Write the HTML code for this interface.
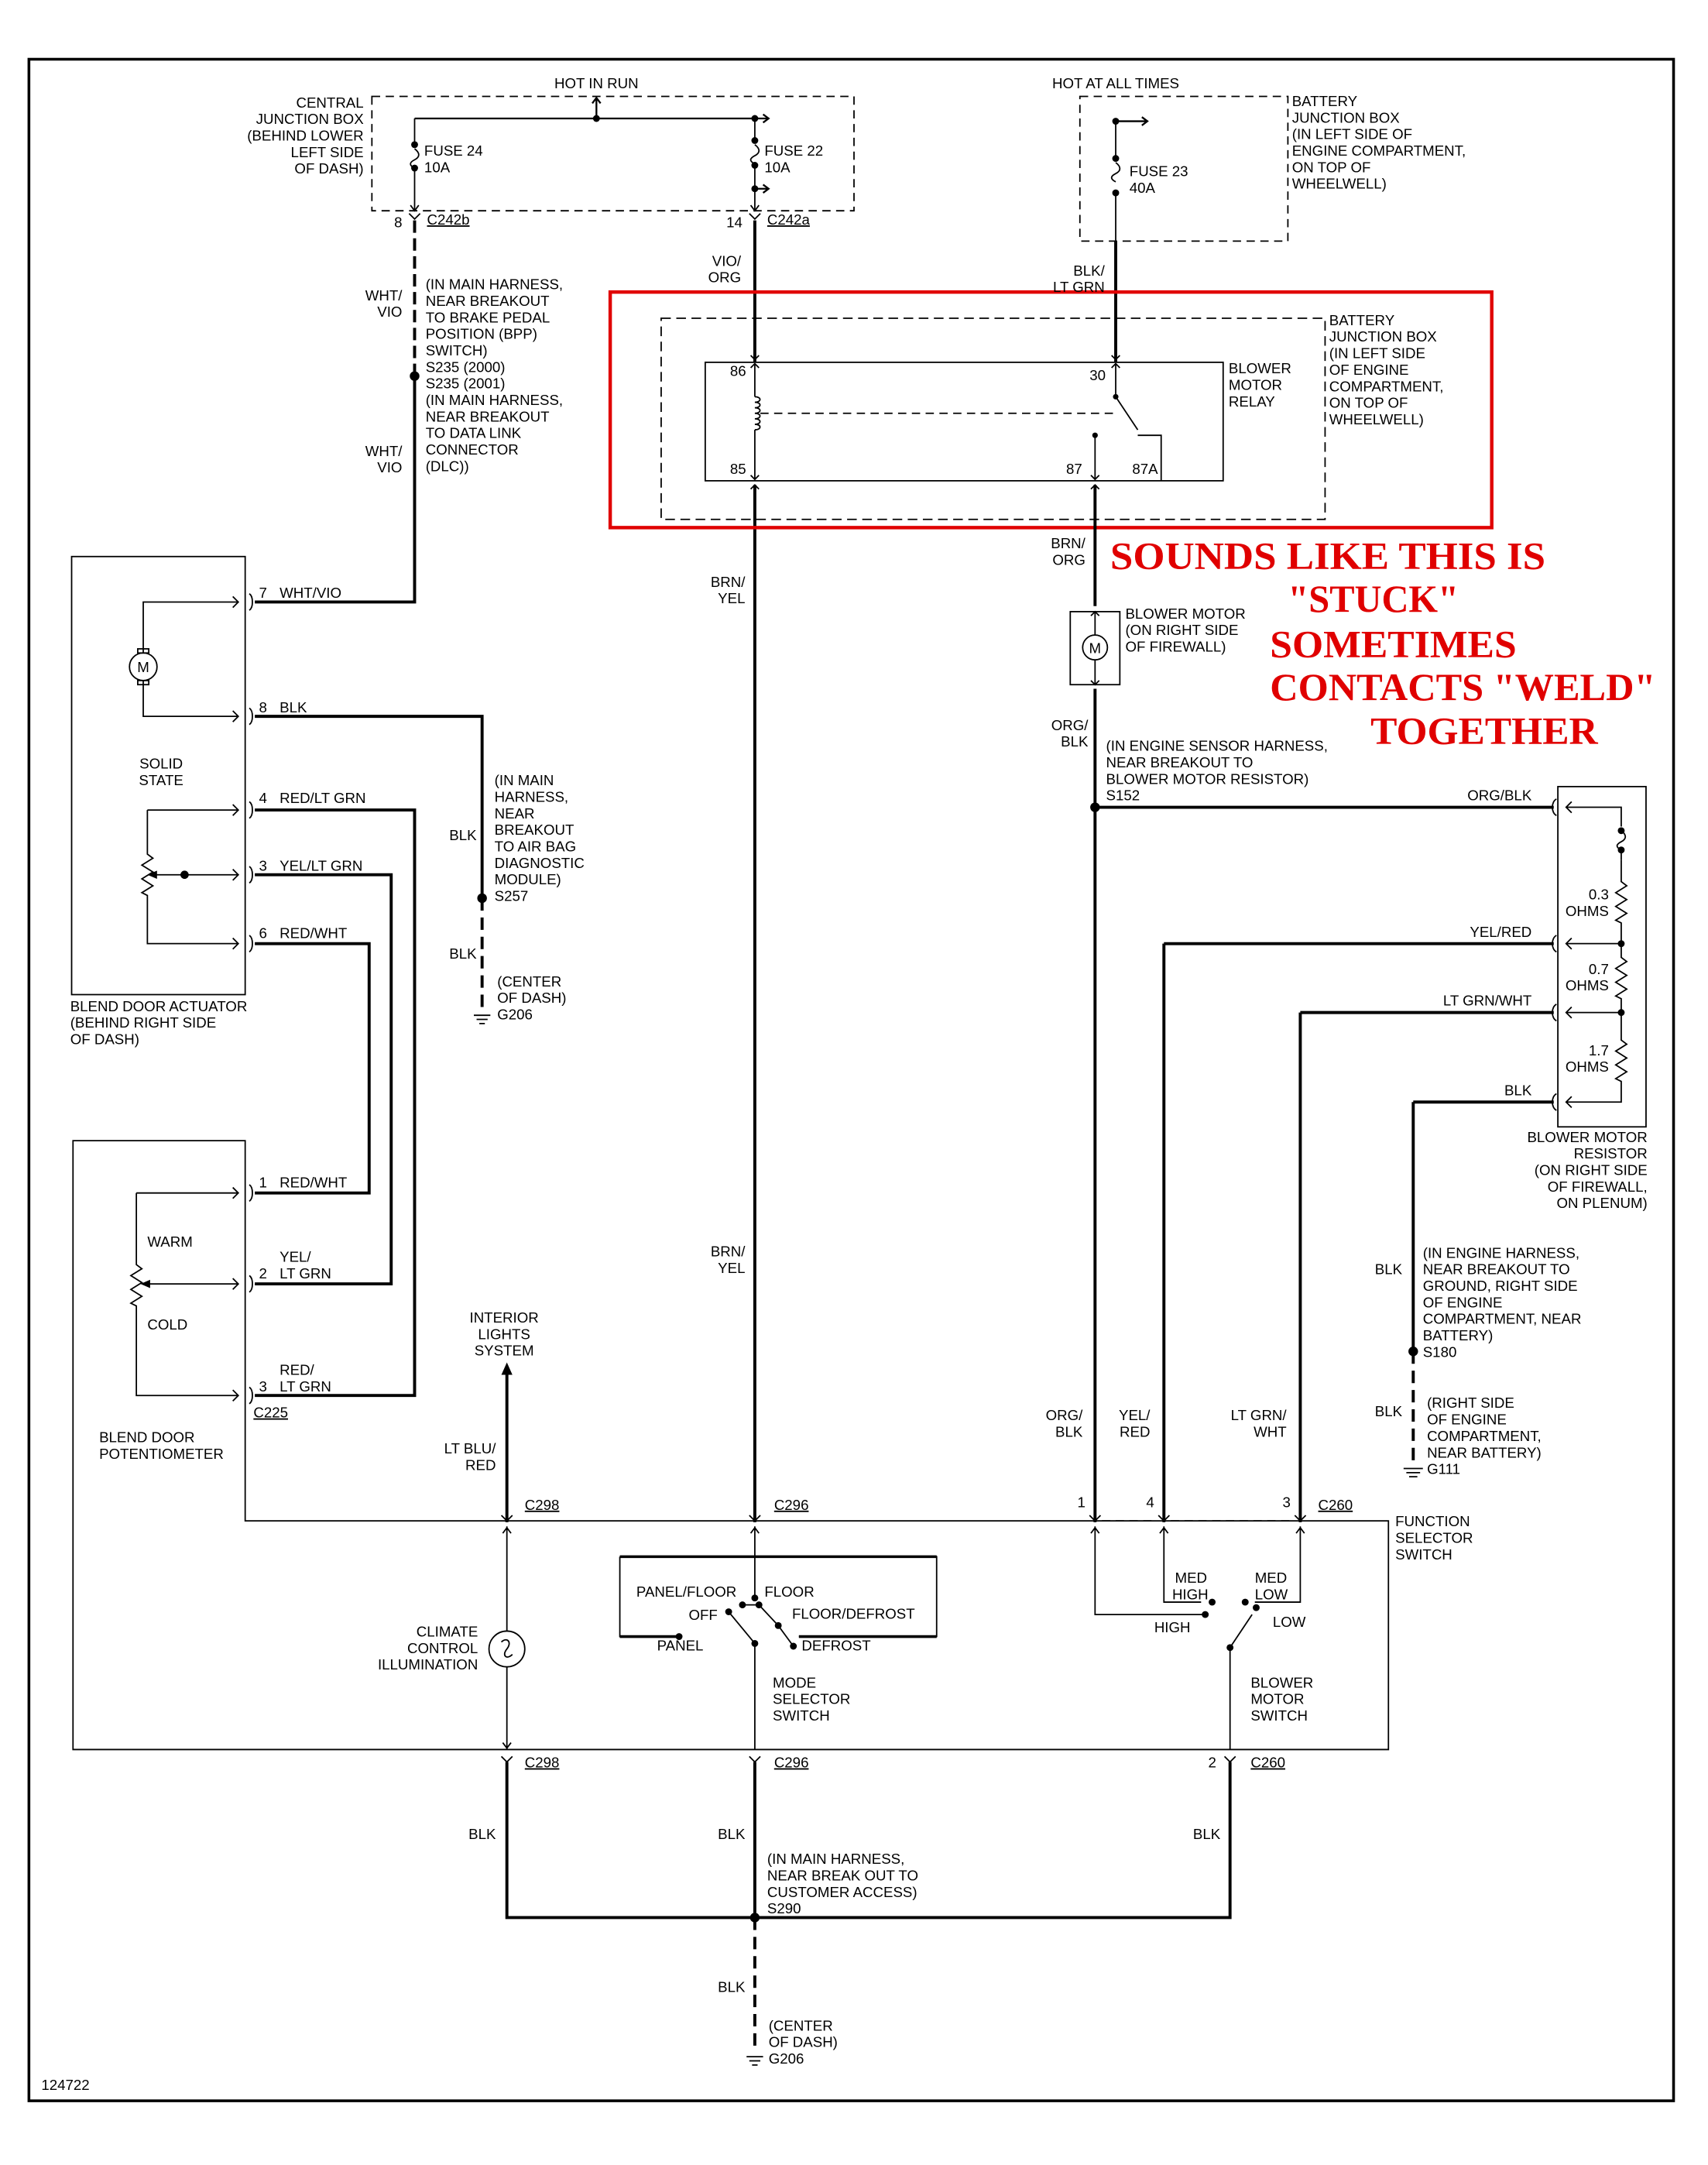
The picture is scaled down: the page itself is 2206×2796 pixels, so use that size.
<!DOCTYPE html>
<html><head><meta charset="utf-8">
<style>
html,body{margin:0;padding:0;background:#fff;}
svg{display:block;}
text{font-family:"Liberation Sans",sans-serif;font-size:10.5px;fill:#000;}
.r{text-anchor:end;}
.m{text-anchor:middle;}
.red{font-family:"Liberation Serif",serif;font-weight:bold;font-size:28px;fill:#e00000;}
</style></head><body>
<svg width="2206" height="2796" viewBox="0 0 1240 1571.6" preserveAspectRatio="none" xmlns="http://www.w3.org/2000/svg">
<rect x="0" y="0" width="1240" height="1572" fill="#fff"/>
<g fill="none" stroke="#000">
<rect x="21" y="43" width="1194" height="1482" stroke-width="2"/>
<rect x="270" y="70" width="350" height="83" stroke-dasharray="6,4" stroke-width="1"/>
<path d="M301 86H548M548 86H558M554 83l4 3-4 3M433 86V71M430 75l3-4 3 4M548 137H558M554 134l4 3-4 3" stroke-width="1.3"/>
<path d="M301 86V105M301 122V153M548 86V102M548 120V153" stroke-width="1"/>
<path d="M301 108c4 3 4 6 0 8c-4 2-4 4 0 6M548 105c4 3 4 6 0 8c-4 2-4 4 0 6" stroke-width="1"/>
<path d="M298 149l3 4 3-4M545 149l3 4 3-4M297 155l4 4 4-4M544 155l4 4 4-4"/>
<rect x="784" y="70" width="151" height="105" stroke-dasharray="6,4" stroke-width="1"/>
<path d="M810 88H833M829 85l4 3-4 3" stroke-width="1.3"/>
<path d="M810 88V115M810 140V175" stroke-width="1"/>
<path d="M810 118c4 3 4 6 0 8c-4 2-4 4 0 6"/>
<path d="M810 175V263" stroke-width="2.2"/>
<path d="M301 160V273" stroke-width="2.2" stroke-dasharray="9,4"/>
<path d="M301 273V437H185" stroke-width="2.2"/>
<path d="M548 160V263M548 352V1105" stroke-width="2.2"/>
<rect x="443" y="212" width="640" height="171" stroke="#e00000" stroke-width="2.5"/>
<rect x="480" y="231" width="482" height="146" stroke-dasharray="7,4" stroke-width="1"/>
<rect x="512" y="263" width="376" height="86" stroke-width="1"/>
<path d="M548 264V288M548 312V348M545 267l3-3 3 3M545 345l3 3 3-3M545 258l3 3 3-3M545 355l3-3 3 3M807 258l3 3 3-3"/>
<path d="M548 288c5 0 5 4 0 4c5 0 5 4 0 4c5 0 5 4 0 4c5 0 5 4 0 4c5 0 5 4 0 4c5 0 5 4 0 4" />
<path d="M552 300H812" stroke-dasharray="6,4"/>
<path d="M810 264V288L826 312M807 267l3-3 3 3M826 316H843V349M795 316V348M792 345l3 3 3-3"/>
<path d="M795 352V440" stroke-width="2.2"/>
<path d="M792 355l3-3 3 3"/>
<rect x="777" y="444" width="36" height="53"/>
<circle cx="795" cy="470" r="9"/>
<path d="M795 444V461M795 479V497M792 447l3-3 3 3M792 494l3 3 3-3"/>
<path d="M795 500V1105" stroke-width="2.2"/>
<path d="M795 586H1128M845 685H1128M845 685V1105M944 735H1128M944 735V1105M1026 800H1128M1026 800V981" stroke-width="2.2"/>
<path d="M1026 981V1062" stroke-width="2.2" stroke-dasharray="9,5"/>
<path d="M1019 1066h14M1021 1069h10M1023 1072h6"/>
<rect x="1131" y="571" width="64" height="247"/>
<path d="M1130 580c-4 2-4 10 0 12M1130 679c-4 2-4 10 0 12M1130 729c-4 2-4 10 0 12M1130 794c-4 2-4 10 0 12"/>
<path d="M1137 586H1177V600M1177 624V640l4 3-8 5 8 5-8 5 8 5-8 5 4 2V695l4 3-8 5 8 5-8 5 8 5-8 5 4 2V755l4 3-8 5 8 5-8 5 8 5-8 5 4 2V800H1137M1137 685H1177M1137 735H1177M1141 582l-4 4 4 4M1141 681l-4 4 4 4M1141 731l-4 4 4 4M1141 796l-4 4 4 4"/>
<path d="M1177 603c4 3 4 6 0 8c-4 2-4 4 0 6V624"/>
<rect x="52" y="404" width="126" height="318"/>
<path d="M104 474V437H173M169 433l4 4-4 4M104 494V520H173M169 516l4 4-4 4"/>
<circle cx="104" cy="484" r="10"/>
<rect x="100" y="471" width="8" height="3"/><rect x="100" y="494" width="8" height="3"/>
<path d="M107 588H173M169 584l4 4-4 4M107 588V620l4 3-8 5 8 5-8 5 8 5-8 5 4 2V685H173M169 681l4 4-4 4M112 635H173M169 631l4 4-4 4"/>
<path d="M181 431c3 2 3 10 0 12M181 514c3 2 3 10 0 12M181 582c3 2 3 10 0 12M181 629c3 2 3 10 0 12M181 679c3 2 3 10 0 12"/>
<path d="M185 520H350V652M185 588H301V1013H185M185 635H284V932H185M185 685H268V866H185" stroke-width="2.2"/>
<path d="M350 652V735" stroke-width="2.2" stroke-dasharray="9,5"/>
<path d="M344 737h12M346 740h8M348 743h4"/>
<path d="M53 828H178V1104H1008V1270H53Z"/>
<path d="M99 866H173M169 862l4 4-4 4M99 866V918l4 3-8 5 8 5-8 5 8 5-8 5 4 2V1013H173M169 1009l4 4-4 4M104 932H173M169 928l4 4-4 4"/>
<path d="M181 860c3 2 3 10 0 12M181 926c3 2 3 10 0 12M181 1007c3 2 3 10 0 12"/>
<path d="M368 995V1105" stroke-width="2.2"/>
<path d="M368 1108V1184M368 1210V1270M365 1113l3-4 3 4M365 1265l3 4 3-4"/>
<circle cx="368" cy="1197" r="13"/>
<path d="M364 1192c4-4 8 0 4 5c-4 5 0 8 4 4"/>
<path d="M364 1100l4 4 4-4M544 1100l4 4 4-4M791 1100l4 4 4-4M841 1100l4 4 4-4M940 1100l4 4 4-4"/>
<path d="M800 1104H840M850 1104H939" stroke-dasharray="6,4"/>
<path d="M548 1108V1160M545 1113l3-4 3 4M795 1108V1172H875M792 1113l3-4 3 4M845 1108V1163H872M842 1113l3-4 3 4M944 1108V1163H911M941 1113l3-4 3 4"/>
<path d="M450 1130H680V1188H580M450 1130V1188H493" stroke-width="1"/>
<path d="M450 1130H680M580 1188H680M450 1188H493" stroke-width="2"/>
<path d="M539 1165H551L565 1180L576 1195M548 1193L529 1170M548 1193V1270"/>
<path d="M893 1196V1270M893 1196L909 1172"/>
<path d="M364 1275l4 4 4-4M544 1275l4 4 4-4M889 1275l4 4 4-4"/>
<path d="M368 1279V1392H893V1279M548 1279V1392" stroke-width="2.2"/>
<path d="M548 1392V1490" stroke-width="2.2" stroke-dasharray="9,5"/>
<path d="M542 1493h12M544 1496h8M546 1499h4"/>
</g>
<g fill="#000">
<circle cx="433" cy="86" r="2.5"/><circle cx="548" cy="86" r="2.5"/><circle cx="548" cy="137" r="2.5"/>
<circle cx="301" cy="105" r="2.5"/><circle cx="301" cy="122" r="2.5"/><circle cx="548" cy="102" r="2.5"/><circle cx="548" cy="120" r="2.5"/>
<circle cx="810" cy="88" r="2.5"/><circle cx="810" cy="115" r="2.5"/><circle cx="810" cy="140" r="2.5"/>
<circle cx="301" cy="273" r="3.5"/><circle cx="795" cy="586" r="3.5"/><circle cx="350" cy="652" r="3.5"/><circle cx="1026" cy="981" r="3.5"/><circle cx="548" cy="1392" r="3.5"/>
<circle cx="810" cy="288" r="2"/><circle cx="795" cy="316" r="2"/>
<circle cx="1177" cy="685" r="2.5"/><circle cx="1177" cy="735" r="2.5"/><circle cx="1177" cy="603" r="2.5"/><circle cx="1177" cy="617" r="2.5"/>
<circle cx="134" cy="635" r="3"/>
<path d="M107 635l7-3v6z"/><path d="M102 932l7-3v6z"/>
<path d="M364 998l4-9 4 9z"/>
<circle cx="548" cy="1160" r="2.5"/><circle cx="539" cy="1165" r="2.5"/><circle cx="551" cy="1165" r="2.5"/><circle cx="565" cy="1180" r="2.5"/><circle cx="576" cy="1195" r="2.5"/><circle cx="493" cy="1188" r="2.5"/><circle cx="529" cy="1170" r="2.5"/><circle cx="548" cy="1193" r="2.5"/>
<circle cx="875" cy="1172" r="2.5"/><circle cx="880" cy="1163" r="2.5"/><circle cx="904" cy="1163" r="2.5"/><circle cx="912" cy="1167" r="2.5"/><circle cx="893" cy="1196" r="2.5"/>
</g>
<text x="433" y="64" class="m">HOT IN RUN</text>
<text x="264" y="78" class="r">CENTRAL</text><text x="264" y="90" class="r">JUNCTION BOX</text><text x="264" y="102" class="r">(BEHIND LOWER</text><text x="264" y="114" class="r">LEFT SIDE</text><text x="264" y="126" class="r">OF DASH)</text>
<text x="308" y="113">FUSE 24</text><text x="308" y="125">10A</text>
<text x="555" y="113">FUSE 22</text><text x="555" y="125">10A</text>
<text x="292" y="165" class="r">8</text><text x="310" y="163" text-decoration="underline">C242b</text>
<text x="539" y="165" class="r">14</text><text x="557" y="163" text-decoration="underline">C242a</text>
<text x="810" y="64" class="m">HOT AT ALL TIMES</text>
<text x="938" y="77">BATTERY</text><text x="938" y="89">JUNCTION BOX</text><text x="938" y="101">(IN LEFT SIDE OF</text><text x="938" y="113">ENGINE COMPARTMENT,</text><text x="938" y="125">ON TOP OF</text><text x="938" y="137">WHEELWELL)</text>
<text x="820" y="128">FUSE 23</text><text x="820" y="140">40A</text>
<text x="538" y="193" class="r">VIO/</text><text x="538" y="205" class="r">ORG</text>
<text x="802" y="200" class="r">BLK/</text><text x="802" y="212" class="r">LT GRN</text>
<text x="292" y="218" class="r">WHT/</text><text x="292" y="230" class="r">VIO</text>
<text x="309" y="210">(IN MAIN HARNESS,</text><text x="309" y="222">NEAR BREAKOUT</text><text x="309" y="234">TO BRAKE PEDAL</text><text x="309" y="246">POSITION (BPP)</text><text x="309" y="258">SWITCH)</text><text x="309" y="270">S235 (2000)</text><text x="309" y="282">S235 (2001)</text><text x="309" y="294">(IN MAIN HARNESS,</text><text x="309" y="306">NEAR BREAKOUT</text><text x="309" y="318">TO DATA LINK</text><text x="309" y="330">CONNECTOR</text><text x="309" y="342">(DLC))</text>
<text x="292" y="331" class="r">WHT/</text><text x="292" y="343" class="r">VIO</text>
<text x="530" y="273">86</text><text x="530" y="344">85</text><text x="791" y="276">30</text><text x="774" y="344">87</text><text x="822" y="344">87A</text>
<text x="892" y="271">BLOWER</text><text x="892" y="283">MOTOR</text><text x="892" y="295">RELAY</text>
<text x="965" y="236">BATTERY</text><text x="965" y="248">JUNCTION BOX</text><text x="965" y="260">(IN LEFT SIDE</text><text x="965" y="272">OF ENGINE</text><text x="965" y="284">COMPARTMENT,</text><text x="965" y="296">ON TOP OF</text><text x="965" y="308">WHEELWELL)</text>
<text x="788" y="398" class="r">BRN/</text><text x="788" y="410" class="r">ORG</text>
<text x="541" y="426" class="r">BRN/</text><text x="541" y="438" class="r">YEL</text>
<text x="541" y="912" class="r">BRN/</text><text x="541" y="924" class="r">YEL</text>
<text x="817" y="449">BLOWER MOTOR</text><text x="817" y="461">(ON RIGHT SIDE</text><text x="817" y="473">OF FIREWALL)</text>
<text x="795" y="474" class="m" font-size="10">M</text>
<text x="104" y="488" class="m" font-size="11">M</text>
<text x="790" y="530" class="r">ORG/</text><text x="790" y="542" class="r">BLK</text>
<text x="803" y="545">(IN ENGINE SENSOR HARNESS,</text><text x="803" y="557">NEAR BREAKOUT TO</text><text x="803" y="569">BLOWER MOTOR RESISTOR)</text><text x="803" y="581">S152</text>
<text class="red" x="806" y="413" textLength="316" lengthAdjust="spacingAndGlyphs">SOUNDS LIKE THIS IS</text>
<text class="red" x="935" y="444" textLength="124" lengthAdjust="spacingAndGlyphs">"STUCK"</text>
<text class="red" x="922" y="477" textLength="179" lengthAdjust="spacingAndGlyphs">SOMETIMES</text>
<text class="red" x="922" y="508" textLength="280" lengthAdjust="spacingAndGlyphs">CONTACTS "WELD"</text>
<text class="red" x="995" y="540" textLength="165" lengthAdjust="spacingAndGlyphs">TOGETHER</text>
<text x="1112" y="581" class="r">ORG/BLK</text><text x="1112" y="680" class="r">YEL/RED</text><text x="1112" y="730" class="r">LT GRN/WHT</text><text x="1112" y="795" class="r">BLK</text>
<text x="1168" y="653" class="r">0.3</text><text x="1168" y="665" class="r">OHMS</text>
<text x="1168" y="707" class="r">0.7</text><text x="1168" y="719" class="r">OHMS</text>
<text x="1168" y="766" class="r">1.7</text><text x="1168" y="778" class="r">OHMS</text>
<text x="1196" y="829" class="r">BLOWER MOTOR</text><text x="1196" y="841" class="r">RESISTOR</text><text x="1196" y="853" class="r">(ON RIGHT SIDE</text><text x="1196" y="865" class="r">OF FIREWALL,</text><text x="1196" y="877" class="r">ON PLENUM)</text>
<text x="1018" y="925" class="r">BLK</text>
<text x="1033" y="913">(IN ENGINE HARNESS,</text><text x="1033" y="925">NEAR BREAKOUT TO</text><text x="1033" y="937">GROUND, RIGHT SIDE</text><text x="1033" y="949">OF ENGINE</text><text x="1033" y="961">COMPARTMENT, NEAR</text><text x="1033" y="973">BATTERY)</text><text x="1033" y="985">S180</text>
<text x="1018" y="1028" class="r">BLK</text>
<text x="1036" y="1022">(RIGHT SIDE</text><text x="1036" y="1034">OF ENGINE</text><text x="1036" y="1046">COMPARTMENT,</text><text x="1036" y="1058">NEAR BATTERY)</text><text x="1036" y="1070">G111</text>
<text x="786" y="1031" class="r">ORG/</text><text x="786" y="1043" class="r">BLK</text>
<text x="835" y="1031" class="r">YEL/</text><text x="835" y="1043" class="r">RED</text>
<text x="934" y="1031" class="r">LT GRN/</text><text x="934" y="1043" class="r">WHT</text>
<text x="788" y="1094" class="r">1</text><text x="838" y="1094" class="r">4</text><text x="937" y="1094" class="r">3</text>
<text x="957" y="1096" text-decoration="underline">C260</text>
<text x="1013" y="1108">FUNCTION</text><text x="1013" y="1120">SELECTOR</text><text x="1013" y="1132">SWITCH</text>
<text x="117" y="558" class="m">SOLID</text><text x="117" y="570" class="m">STATE</text>
<text x="188" y="434">7</text><text x="203" y="434">WHT/VIO</text>
<text x="188" y="517">8</text><text x="203" y="517">BLK</text>
<text x="188" y="583">4</text><text x="203" y="583">RED/LT GRN</text>
<text x="188" y="632">3</text><text x="203" y="632">YEL/LT GRN</text>
<text x="188" y="681">6</text><text x="203" y="681">RED/WHT</text>
<text x="51" y="734">BLEND DOOR ACTUATOR</text><text x="51" y="746">(BEHIND RIGHT SIDE</text><text x="51" y="758">OF DASH)</text>
<text x="346" y="610" class="r">BLK</text>
<text x="359" y="570">(IN MAIN</text><text x="359" y="582">HARNESS,</text><text x="359" y="594">NEAR</text><text x="359" y="606">BREAKOUT</text><text x="359" y="618">TO AIR BAG</text><text x="359" y="630">DIAGNOSTIC</text><text x="359" y="642">MODULE)</text><text x="359" y="654">S257</text>
<text x="346" y="696" class="r">BLK</text>
<text x="361" y="716">(CENTER</text><text x="361" y="728">OF DASH)</text><text x="361" y="740">G206</text>
<text x="188" y="862">1</text><text x="203" y="862">RED/WHT</text>
<text x="203" y="916">YEL/</text><text x="188" y="928">2</text><text x="203" y="928">LT GRN</text>
<text x="203" y="998">RED/</text><text x="188" y="1010">3</text><text x="203" y="1010">LT GRN</text>
<text x="184" y="1029" text-decoration="underline">C225</text>
<text x="107" y="905">WARM</text><text x="107" y="965">COLD</text>
<text x="72" y="1047">BLEND DOOR</text><text x="72" y="1059">POTENTIOMETER</text>
<text x="366" y="960" class="m">INTERIOR</text><text x="366" y="972" class="m">LIGHTS</text><text x="366" y="984" class="m">SYSTEM</text>
<text x="360" y="1055" class="r">LT BLU/</text><text x="360" y="1067" class="r">RED</text>
<text x="381" y="1096" text-decoration="underline">C298</text><text x="562" y="1096" text-decoration="underline">C296</text>
<text x="347" y="1188" class="r">CLIMATE</text><text x="347" y="1200" class="r">CONTROL</text><text x="347" y="1212" class="r">ILLUMINATION</text>
<text x="462" y="1159">PANEL/FLOOR</text><text x="555" y="1159">FLOOR</text><text x="500" y="1176">OFF</text><text x="575" y="1175">FLOOR/DEFROST</text><text x="477" y="1198">PANEL</text><text x="582" y="1198">DEFROST</text>
<text x="561" y="1225">MODE</text><text x="561" y="1237">SELECTOR</text><text x="561" y="1249">SWITCH</text>
<text x="853" y="1149">MED</text><text x="851" y="1161">HIGH</text><text x="911" y="1149">MED</text><text x="911" y="1161">LOW</text>
<text x="838" y="1185">HIGH</text><text x="924" y="1181">LOW</text>
<text x="908" y="1225">BLOWER</text><text x="908" y="1237">MOTOR</text><text x="908" y="1249">SWITCH</text>
<text x="381" y="1283" text-decoration="underline">C298</text><text x="562" y="1283" text-decoration="underline">C296</text><text x="883" y="1283" class="r">2</text><text x="908" y="1283" text-decoration="underline">C260</text>
<text x="360" y="1335" class="r">BLK</text><text x="541" y="1335" class="r">BLK</text><text x="886" y="1335" class="r">BLK</text>
<text x="557" y="1353">(IN MAIN HARNESS,</text><text x="557" y="1365">NEAR BREAK OUT TO</text><text x="557" y="1377">CUSTOMER ACCESS)</text><text x="557" y="1389">S290</text>
<text x="541" y="1446" class="r">BLK</text>
<text x="558" y="1474">(CENTER</text><text x="558" y="1486">OF DASH)</text><text x="558" y="1498">G206</text>
<text x="30" y="1517">124722</text>
</svg>
</body></html>
